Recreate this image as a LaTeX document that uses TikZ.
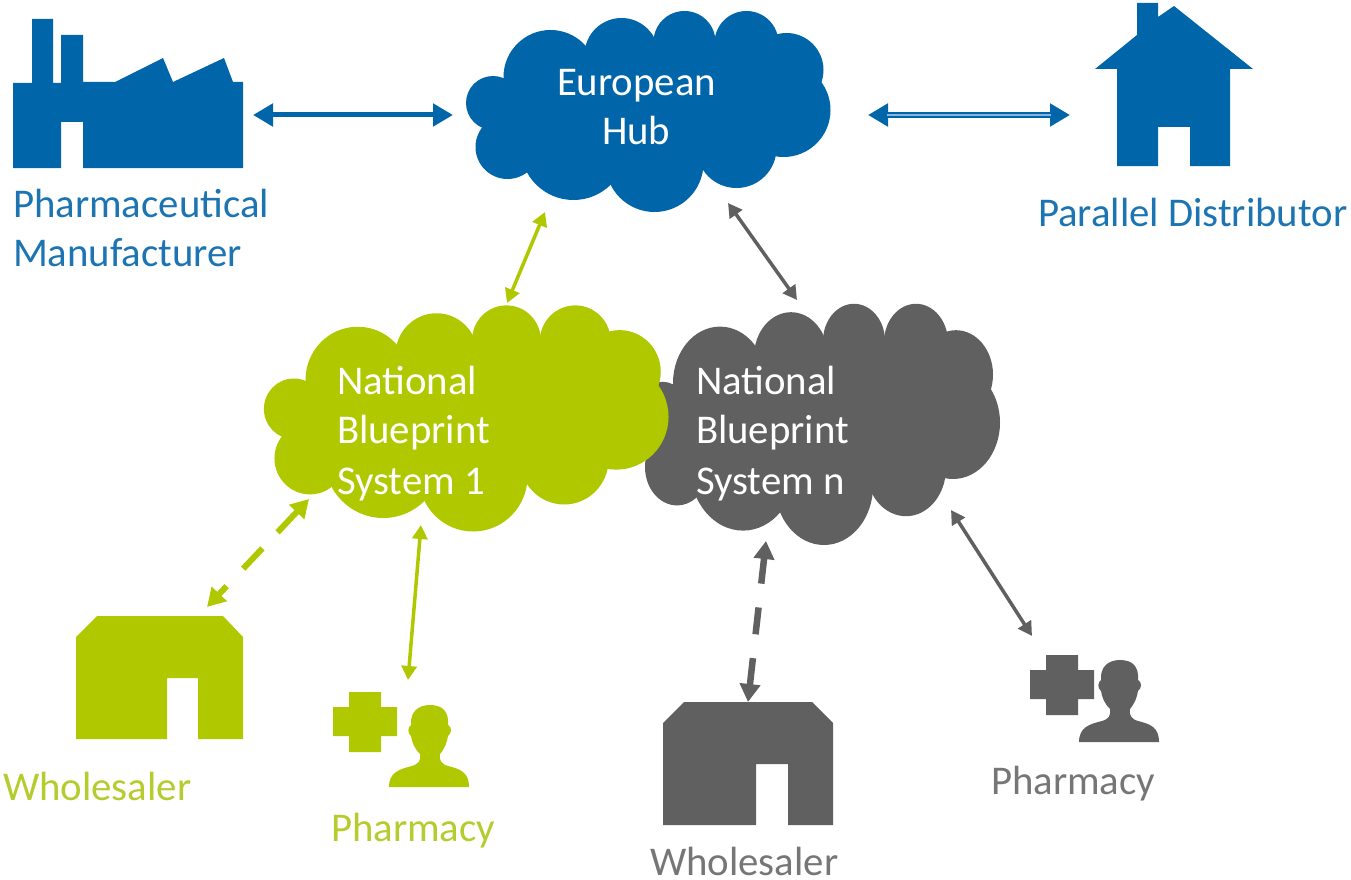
\documentclass[tikz,border=0pt]{standalone}
\usepackage{fontspec}
\setmainfont{Carlito}
\usetikzlibrary{arrows.meta}
\definecolor{cblue}{HTML}{0066A9}
\definecolor{cgreen}{HTML}{B0C800}
\definecolor{cgray}{HTML}{606060}
\definecolor{tblue}{HTML}{1C74B2}
\definecolor{tgreen}{HTML}{B4CC2E}
\definecolor{tgray}{HTML}{767676}
\definecolor{lblue}{HTML}{86B6E0}
\newcommand{\cloudshape}[1]{%
  \foreach \cx/\cy/\cr in {-155.5/-9/27,-141/35/32,-98/-35/47,-27/-57/37,36/-70/31,98/-69/32,138/-42/37,135/-2/47,88/36/40,6/51/49,-75/35/53}
    {\fill[#1] (\cx,\cy) circle[radius=\cr];}
  \fill[#1] (-155.5,-9) -- (-98,-35) -- (-27,-57) -- (36,-70) -- (98,-69) -- (138,-42) -- (135,-2) -- (88,36) -- (6,51) -- (-75,35) -- (-141,35) -- cycle;
}
\newcommand{\personshape}[1]{%
  \fill[#1] (389,787) .. controls (389,772) and (400,769) .. (412,766)
    .. controls (419,764) and (421,760) .. (420,754)
    .. controls (414,748) and (412,742) .. (411,736)
    .. controls (407,733) and (408,727) .. (411,725)
    .. controls (410,712) and (418,705) .. (430,705)
    .. controls (443,705) and (449,712) .. (448,725)
    .. controls (452,727) and (452,733) .. (448,736)
    .. controls (447,742) and (445,748) .. (440,754)
    .. controls (439,760) and (441,764) .. (448,766)
    .. controls (460,769) and (469,772) .. (469,787) -- cycle;
}
\newcommand{\plusshape}[1]{%
  \fill[#1] (349,692) -- (381,692) -- (381,707) -- (397,707) -- (397,736) -- (381,736)
    -- (381,752) -- (349,752) -- (349,736) -- (333,736) -- (333,707) -- (349,707) -- cycle;
}
\tikzset{
  lbl/.style={inner sep=0pt,outer sep=0pt,anchor=base west,font=\fontsize{40.8}{41}\selectfont},
  blu/.style={lbl,text=tblue},
  grn/.style={lbl,text=tgreen},
  gry/.style={lbl,text=tgray},
  wht/.style={lbl,text=white},
  tipa/.style={{Triangle[length=14pt,width=15pt]}-{Triangle[length=14pt,width=15pt]}},
  tipb/.style={{Triangle[length=20pt,width=22pt]}-{Triangle[length=20pt,width=22pt]}},
  tipc/.style={{Triangle[length=18pt,width=20pt]}-{Triangle[length=18pt,width=20pt]}},
}
\begin{document}
\begin{tikzpicture}[x=1pt,y=-1pt]
\useasboundingbox (0,0) rectangle (1351,880);
% clouds
\begin{scope}[shift={(648.5,112)}]\cloudshape{cblue}\end{scope}
\begin{scope}[shift={(818,425)},xscale=1,yscale=1.2]\cloudshape{cgray}\end{scope}
\begin{scope}[shift={(466.5,419)},xscale=1.11,yscale=1.125]\cloudshape{cgreen}\end{scope}
% factory
\fill[cblue] (13,83) -- (32,83) -- (32,19) -- (53,19) -- (53,83) -- (61,83) -- (61,35) -- (83,35) -- (83,82) -- (115,82) -- (163,58) -- (173,82) -- (224,58) -- (233,82) -- (243,82) -- (243,168) -- (83,168) -- (83,122) -- (61,122) -- (61,168) -- (13,168) -- cycle;
% house
\fill[cblue] (1137,3) -- (1158,3) -- (1158,17) -- (1174,6) -- (1253,69) -- (1230,69) -- (1230,166) -- (1190,166) -- (1190,127) -- (1158,127) -- (1158,166) -- (1117,166) -- (1117,69) -- (1095,69) -- (1137,35) -- cycle;
% wholesalers
\fill[cgreen] (97,616) -- (223,616) -- (243,637) -- (243,739) -- (198,739) -- (198,678) -- (167,678) -- (167,739) -- (76,739) -- (76,637) -- cycle;
\fill[cgray] (684,702) -- (812,702) -- (833,723) -- (833,825) -- (788,825) -- (788,764) -- (756,764) -- (756,825) -- (663,825) -- (663,723) -- cycle;
% pharmacies
\plusshape{cgreen}
\personshape{cgreen}
\begin{scope}[shift={(697,-37)}]\plusshape{cgray}\end{scope}
\begin{scope}[shift={(690,-45)}]\personshape{cgray}\end{scope}
% labels
\node[blu] (pm1) at (13,217) {Pharmaceutical};
\node[blu] (pm2) at (13,266) {Manufacturer};
\node[blu] (pd) at (1038,226) {Parallel Distributor};
\node[wht] (eh1) at (557,96) {European};
\node[wht] (eh2) at (602,144) {Hub};
\node[wht] (g1) at (337,394) {National};
\node[wht] (g2) at (337,443) {Blueprint};
\node[wht] (g3) at (337,494) {System 1};
\node[wht] (k1) at (696,394) {National};
\node[wht] (k2) at (696,443) {Blueprint};
\node[wht] (k3) at (696,494) {System n};
\node[grn] (wg) at (3,800) {Wholesaler};
\node[grn] (pg) at (331,841) {Pharmacy};
\node[gry] (wk) at (650,875) {Wholesaler};
\node[gry] (pk) at (991,794) {Pharmacy};
% connector ends
\coordinate (a1) at (253,115); \coordinate (a2) at (453,115);
\coordinate (b1) at (868,115); \coordinate (b2) at (1070,115);
\coordinate (c1) at (545,212); \coordinate (c2) at (507,303);
\coordinate (d1) at (728,203); \coordinate (d2) at (797,300);
\coordinate (e1) at (309,499); \coordinate (e2) at (207,607);
\coordinate (f1) at (421,525); \coordinate (f2) at (408,680);
\coordinate (h1) at (766,541); \coordinate (h2) at (748,702);
\coordinate (i1) at (951,510); \coordinate (i2) at (1032,636);
% connectors
\draw[tipb,cblue,line width=5pt] (a1) -- (a2);
\draw[tipb,cblue,line width=6pt] (b1) -- (b2);
\draw[lblue,line width=2pt,shorten <=19pt,shorten >=19pt] (b1) -- (b2);
\draw[tipa,cgreen,line width=3.5pt] (c1) -- (c2);
\draw[tipa,cgray,line width=3.5pt] (d1) -- (d2);
\draw[tipc,cgreen,line width=6pt,dash pattern=on 29pt off 22pt on 28pt off 24pt on 40pt off 10pt] (e1) -- (e2);
\draw[tipa,cgreen,line width=3.5pt] (f1) -- (f2);
\draw[tipc,cgray,line width=6.5pt,dash pattern=on 26pt off 24pt on 27pt off 24pt on 40pt off 10pt] (h1) -- (h2);
\draw[tipa,cgray,line width=3.5pt] (i1) -- (i2);
\end{tikzpicture}
\end{document}
